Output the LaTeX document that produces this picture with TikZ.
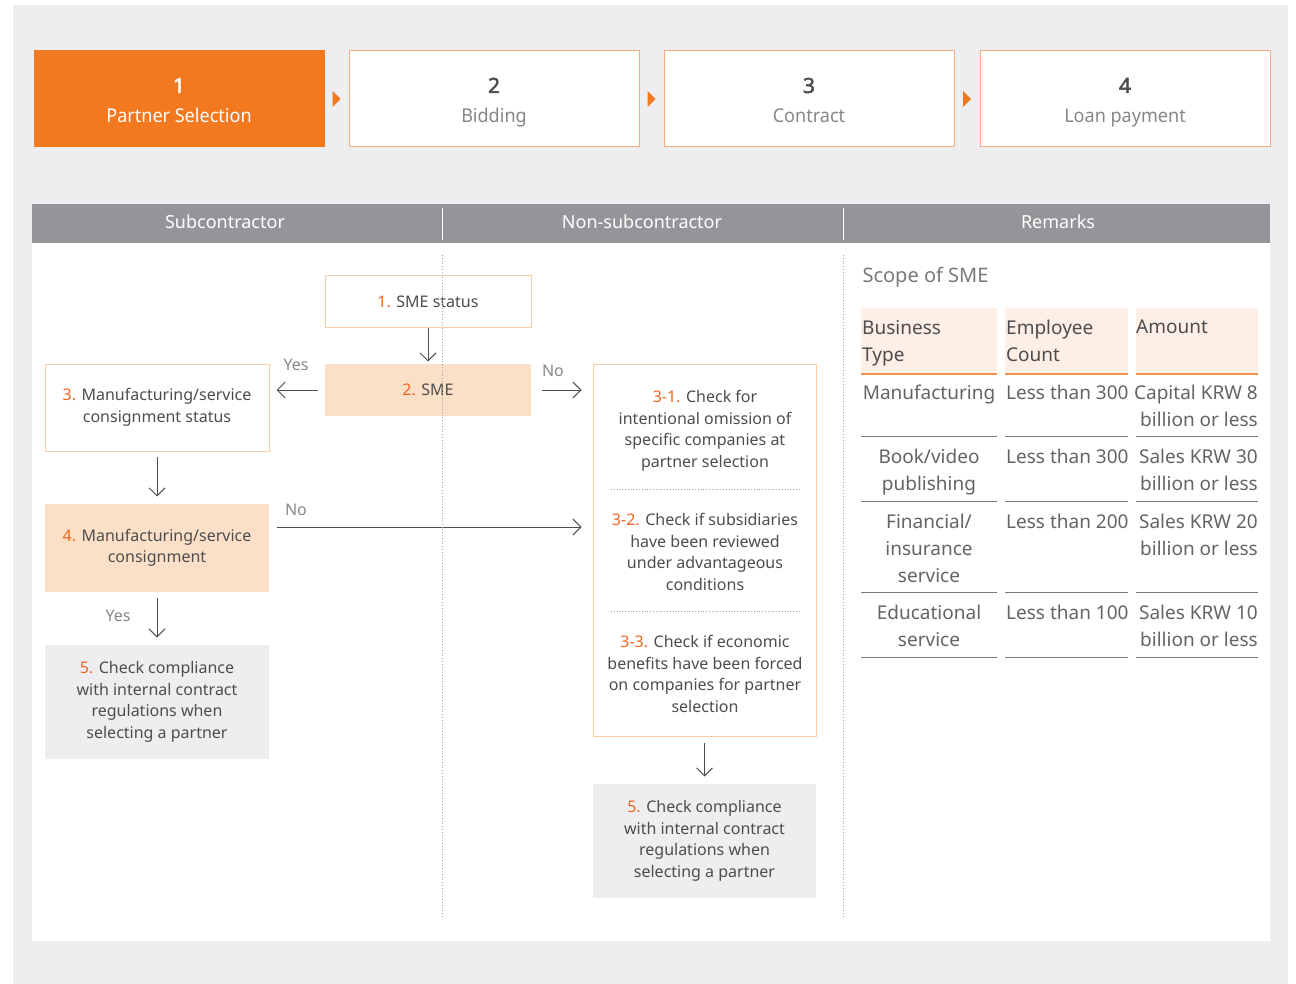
\documentclass[tikz,border=0pt]{standalone}
\usepackage{fontspec}
\setmainfont{Noto Sans}
\newfontfamily\stepfont[FakeStretch=0.95]{Noto Sans}
\newfontfamily\numfont[FakeBold=2.2]{Noto Sans}
\usetikzlibrary{positioning, calc, arrows.meta}
\definecolor{pageback}{RGB}{238,238,240}
\definecolor{mainorange}{RGB}{243,121,32}
\definecolor{numorange}{RGB}{242,101,34}
\definecolor{lineorange}{RGB}{247,170,125}
\definecolor{boxline}{RGB}{251,205,165}
\definecolor{boxfill}{RGB}{251,223,198}
\definecolor{headfill}{RGB}{253,238,230}
\definecolor{greyfill}{RGB}{238,238,240}
\definecolor{barcolor}{RGB}{147,149,152}
\definecolor{textdark}{RGB}{77,77,79}
\definecolor{textgrey}{RGB}{135,135,137}
\definecolor{cellgrey}{RGB}{100,100,102}
\definecolor{rulegrey}{RGB}{120,120,122}
\newcommand{\stepno}[1]{\textcolor{numorange}{#1}}
\newcommand{\stepnum}[1]{{\numfont\fontsize{21}{30}\selectfont #1}}

\begin{document}
\begin{tikzpicture}[x=1pt, y=-1pt,
    stepbox/.style={rectangle, draw=lineorange, fill=white, line width=1pt,
                    minimum width=290pt, minimum height=96pt, align=center,
                    text height=52pt, text depth=4pt, inner sep=0pt,
                    text=textgrey, font=\stepfont\fontsize{19}{30}\selectfont},
    headtext/.style={text=white, font=\fontsize{18}{20}\selectfont},
    flowbox/.style={rectangle, draw=boxline, line width=1pt, fill=white, align=center,
                    text=textdark, font=\fontsize{16}{21.5}\selectfont},
    filledbox/.style={flowbox, draw=none, fill=boxfill},
    greybox/.style={flowbox, draw=none, fill=greyfill},
    flowlabel/.style={text=textgrey, font=\fontsize{16}{20}\selectfont},
    arr/.style={draw=textdark, line width=0.9pt, -{Straight Barb[length=8pt, width=16pt]}},
    sepline/.style={draw=gray!70, line width=0.8pt, dash pattern=on 0.8pt off 2pt},
    cell/.style={inner sep=0pt, text=cellgrey, font=\fontsize{19}{27}\selectfont},
    headcell/.style={cell, text=textdark, align=left, anchor=north west}
]
\useasboundingbox (0,0) rectangle (1296,984);
\fill[white] (0,0) rectangle (1296,984);
\fill[pageback] (13,5) rectangle (1288,984);

% process steps
\node[stepbox, fill=mainorange, draw=mainorange, text=white] (step1) at (179,99)
    {\stepnum{1}\\Partner Selection};
\foreach \i/\x/\lab in {2/494/Bidding, 3/809/Contract, 4/1125/Loan payment}
    \node[stepbox] (step\i) at (\x,99) {\textcolor{textdark}{\stepnum{\i}}\\\lab};
\foreach \i/\j in {1/2, 2/3, 3/4}
    \fill[mainorange] ($(step\i.east)!0.5!(step\j.west)+(-4,-8)$) -- ++(8,8) -- ++(-8,8) -- cycle;

% table head and panel
\fill[barcolor] (32,204) rectangle (1270,243);
\draw[white, line width=1pt] (442,208) -- (442,240) (843,208) -- (843,240);
\node[headtext] (hsub) at (225,222) {Subcontractor};
\node[headtext] (hnon) at (642,222) {Non-subcontractor};
\node[headtext] (hrem) at (1058,222) {Remarks};
\fill[white] (32,243) rectangle (1270,941);

% flow
\node[flowbox, minimum width=206pt, minimum height=52pt] (status) at (428,302)
    {\stepno{1.} SME status};
\node[filledbox, minimum width=206pt, minimum height=52pt] (sme) at (428,390)
    {\stepno{2.} SME};
\node[flowbox, minimum width=224pt, minimum height=87pt] (mstat) at (157,407.5)
    {\stepno{3.} Manufacturing/service\\consignment status};
\node[filledbox, minimum width=224pt, minimum height=88pt] (mcons) at (157,548)
    {\stepno{4.} Manufacturing/service\\consignment};
\node[greybox, minimum width=224pt, minimum height=114pt] (compL) at (157,702)
    {\stepno{5.} Check compliance\\with internal contract\\regulations when\\selecting a partner};
\node[flowbox, minimum width=223pt, minimum height=372pt] (checks) at (704.5,550) {};
\node[flowbox, draw=none, fill=none] (check1) at (705,431)
    {\stepno{3-1.} Check for\\intentional omission of\\specific companies at\\partner selection};
\node[flowbox, draw=none, fill=none] (check2) at (705,552)
    {\stepno{3-2.} Check if subsidiaries\\have been reviewed\\under advantageous\\conditions};
\node[flowbox, draw=none, fill=none] (check3) at (705,674)
    {\stepno{3-3.} Check if economic\\benefits have been forced\\on companies for partner\\selection};
\node[greybox, minimum width=223pt, minimum height=114pt] (compR) at (704.5,841)
    {\stepno{5.} Check compliance\\with internal contract\\regulations when\\selecting a partner};
\draw[sepline] (611,489) -- (801,489) (611,611) -- (801,611);

\draw[arr, shorten >=2pt] (status) -- (sme);
\draw[arr, shorten <=7pt, shorten >=7pt] (sme) -- (mstat.east |- sme);
\draw[arr, shorten <=10pt, shorten >=11pt] (sme) -- (checks.west |- sme);
\draw[arr, shorten <=5pt, shorten >=7pt] (mstat) -- (mcons);
\draw[arr, shorten <=5pt, shorten >=7pt] (mcons) -- (compL);
\draw[arr] ($(mcons.east)+(7,-21)$) -- ($(checks.west |- mcons.east)+(-11,-21)$);
\draw[arr, shorten <=6pt, shorten >=7pt] (checks) -- (compR);
\node[flowlabel] (yes1) at (296,365) {Yes};
\node[flowlabel] (no1) at (553,371) {No};
\node[flowlabel] (no2) at (296,510) {No};
\node[flowlabel] (yes2) at (118,616) {Yes};

% lane separators
\draw[sepline] (442,255) -- (442,918) (843,255) -- (843,918);

% remarks
\node[anchor=west, text=textgrey!90!black, font=\fontsize{20}{24}\selectfont] (scope) at (859,277) {Scope of SME};
\foreach \a/\b in {861/997, 1005/1128, 1136/1258} {
    \fill[headfill] (\a,308) rectangle (\b,374);
    \draw[mainorange!80, line width=1.5pt] (\a,374) -- (\b,374);
    \foreach \y in {436, 501, 592, 657}
        \draw[rulegrey, line width=1pt] (\a,\y) -- (\b,\y);
}
\node[headcell] (hbus) at (862,320) {Business\\Type};
\node[headcell] (hemp) at (1006,320) {Employee\\Count};
\node[headcell] (hamt) at (1136,320) {Amount};

\node[cell, align=center, anchor=north] (bt1) at (929,385) {Manufacturing};
\node[cell, anchor=north west] (ec1) at (1006,385) {Less than 300};
\node[cell, align=right, anchor=north east] (am1) at (1258,385) {Capital KRW 8\\billion or less};
\node[cell, align=center, anchor=north] (bt2) at (929,449) {Book/video\\publishing};
\node[cell, anchor=north west] (ec2) at (1006,449) {Less than 300};
\node[cell, align=right, anchor=north east] (am2) at (1258,449) {Sales KRW 30\\billion or less};
\node[cell, align=center, anchor=north] (bt3) at (929,514) {Financial/\\insurance\\service};
\node[cell, anchor=north west] (ec3) at (1006,514) {Less than 200};
\node[cell, align=right, anchor=north east] (am3) at (1258,514) {Sales KRW 20\\billion or less};
\node[cell, align=center, anchor=north] (bt4) at (929,605) {Educational\\service};
\node[cell, anchor=north west] (ec4) at (1006,605) {Less than 100};
\node[cell, align=right, anchor=north east] (am4) at (1258,605) {Sales KRW 10\\billion or less};
\end{tikzpicture}
\end{document}
